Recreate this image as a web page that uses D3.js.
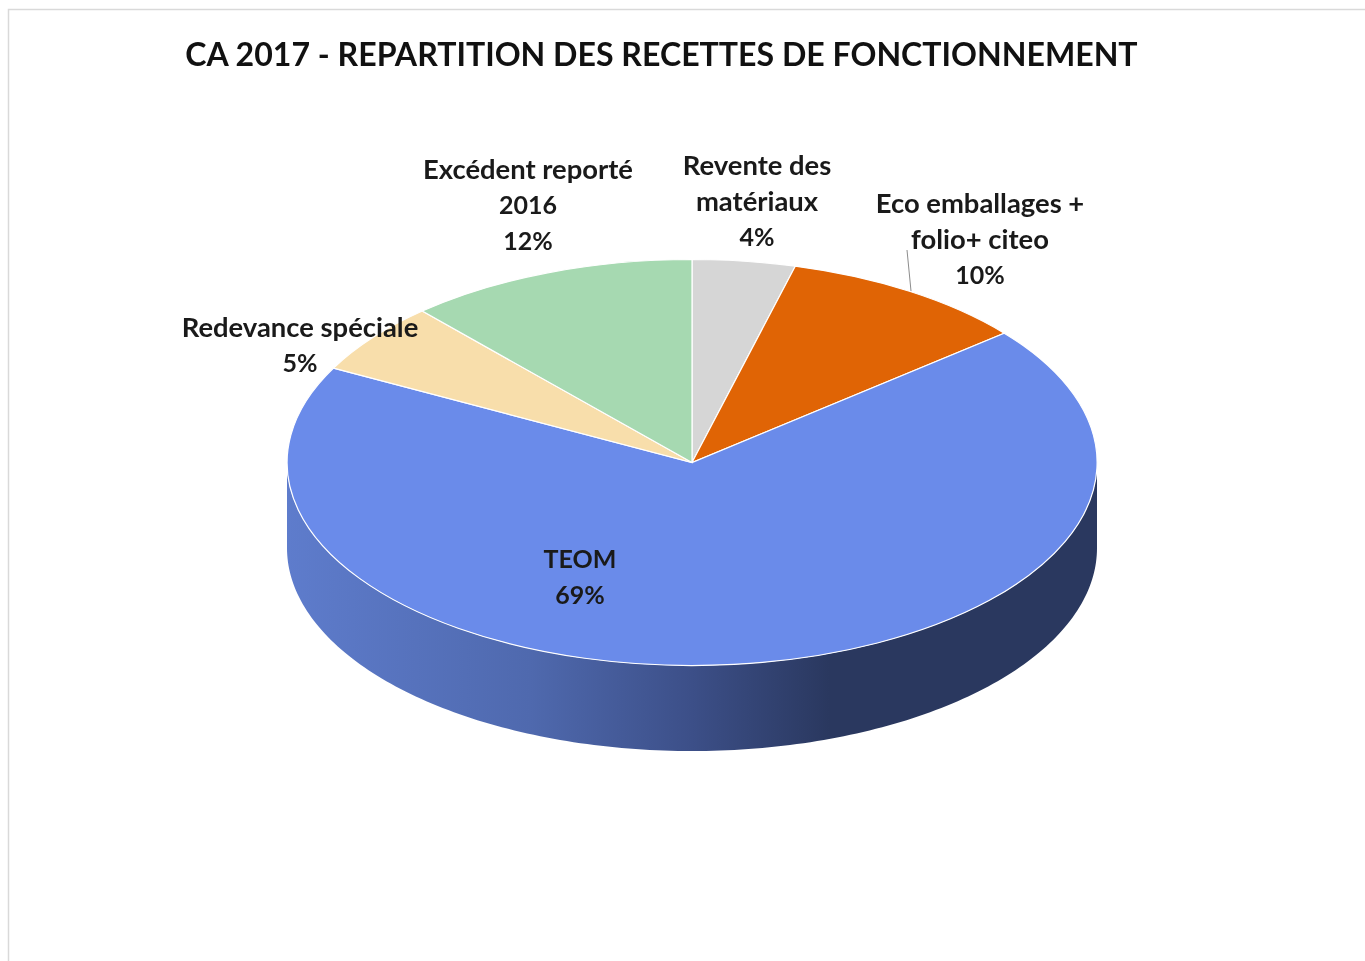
<!DOCTYPE html>
<html>
<head>
<meta charset="utf-8">
<script src="https://cdn.jsdelivr.net/npm/d3@7"></script>
<style>
  html, body { margin: 0; background: #fff; }
  svg { display: block; filter: blur(0.5px); }
  text { font-family: Lato, "Open Sans", sans-serif; fill: #1a1a1a; }
</style>
</head>
<body>
<div id="chart"></div>
<script>
// valeurs (ordre horaire depuis midi)
const categories = ["Revente des matériaux", "Eco emballages + folio+ citeo", "TEOM", "Redevance spéciale", "Excédent reporté 2016"];
const shares = [4.1, 9.9, 68.7, 5.7, 11.6];
const percentLabels = ["4%", "10%", "69%", "5%", "12%"];
const chartTitle = "CA 2017 - REPARTITION DES RECETTES DE FONCTIONNEMENT";

const colors = ["#d6d6d6", "#e06405", "#6a8bea", "#f8deab", "#a6d9b1"];

// mise en page
const width = 1365, height = 961;
const cx = 692, cy = 462.5, rx = 405, ry = 203, depth = 85.5;

// etiquettes : lignes et centre (x, y de la premiere ligne)
const labelLayout = [
  { lines: ["Revente des", "matériaux"], x: 757, y: 165 },
  { lines: ["Eco emballages +", "folio+ citeo"], x: 980, y: 203 },
  { lines: ["TEOM"], x: 580, y: 559 },
  { lines: ["Redevance spéciale"], x: 300, y: 327 },
  { lines: ["Excédent reporté", "2016"], x: 528, y: 169 },
];
const lineHeight = 36;
// les chiffres et TEOM sont plus serres que le texte courant
const rowSize = (d) => (/^[\d%]+$|^TEOM$/.test(d) ? 25 : 27.4);

const svg = d3.select("#chart").append("svg")
  .attr("width", width)
  .attr("height", height);

// cadre du graphique
svg.append("path")
  .attr("d", `M8.5,${height} V9.5 H${width}`)
  .attr("fill", "none")
  .attr("stroke", "#d9d9d9")
  .attr("stroke-width", 1.5);

svg.append("text")
  .attr("x", 661.5)
  .attr("y", 66)
  .attr("text-anchor", "middle")
  .attr("font-size", 32.1)
  .attr("font-weight", 700)
  .style("fill", "#111")
  .text(chartTitle);

// degrade du flanc
const defs = svg.append("defs");
const grad = defs.append("linearGradient")
  .attr("id", "wall")
  .attr("gradientUnits", "userSpaceOnUse")
  .attr("x1", cx - rx).attr("x2", cx + rx)
  .attr("y1", 0).attr("y2", 0);
const wallStops = [[0, "#5e7ccc"], [0.3, "#4f69ae"], [0.5, "#3c4f88"], [0.67, "#2a385f"], [1, "#2a385f"]];
grad.selectAll("stop").data(wallStops).join("stop")
  .attr("offset", (d) => d[0])
  .attr("stop-color", (d) => d[1]);

// flanc : demi-ellipse avant
const wallAngles = d3.range(90, 270.5, 1).map((a) => (a * Math.PI) / 180);
const wall = d3.area()
  .x((a) => cx + rx * Math.sin(a))
  .y0((a) => cy - ry * Math.cos(a))
  .y1((a) => cy - ry * Math.cos(a) + depth);
svg.append("path")
  .attr("d", wall(wallAngles))
  .attr("fill", "url(#wall)");

// dessus : secteurs de rayon 1 etires en ellipse
const pie = d3.pie().sort(null).value((d) => d);
const arc = d3.arc().innerRadius(0).outerRadius(1);
svg.append("g")
  .attr("transform", `translate(${cx},${cy}) scale(${rx},${ry})`)
  .selectAll("path")
  .data(pie(shares))
  .join("path")
  .attr("d", arc)
  .attr("fill", (d, i) => colors[i])
  .attr("stroke", "#fff")
  .attr("stroke-width", 1.2)
  .attr("vector-effect", "non-scaling-stroke");

// trait de rappel Eco emballages
svg.append("line")
  .attr("x1", 907).attr("y1", 250)
  .attr("x2", 911).attr("y2", 291)
  .attr("stroke", "#8c8c8c")
  .attr("stroke-width", 1);

// etiquettes
labelLayout.forEach((l, i) => {
  const rows = [...l.lines, percentLabels[i]];
  svg.append("g")
    .attr("class", "label")
    .attr("aria-label", categories[i])
    .selectAll("text")
    .data(rows)
    .join("text")
    .attr("x", l.x)
    .attr("y", (d, j) => l.y + j * lineHeight)
    .attr("dy", "0.35em")
    .attr("text-anchor", "middle")
    .attr("font-size", rowSize)
    .attr("font-weight", 700)
    .text((d) => d);
});
</script>
</body>
</html>
